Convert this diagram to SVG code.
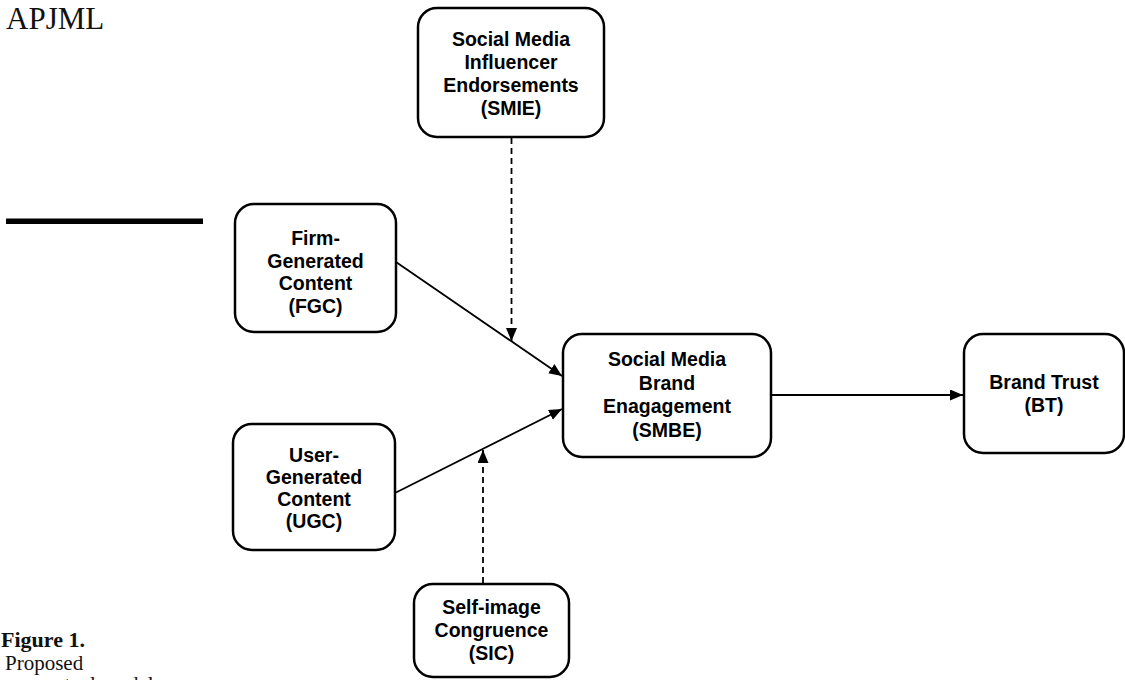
<svg xmlns="http://www.w3.org/2000/svg" width="1125" height="680" viewBox="0 0 1125 680">
<style>
.box{fill:#fff;stroke:#000;stroke-width:2.5}
.t{font-family:"Liberation Sans",Arial,sans-serif;font-weight:bold;font-size:19.5px;text-anchor:middle;fill:#000}
.s{font-family:"Liberation Serif","Times New Roman",serif;fill:#111}
.ln{stroke:#000;stroke-width:1.8;fill:none}
.dash{stroke-dasharray:6 4}
</style>
<defs>
<marker id="ah" markerUnits="userSpaceOnUse" markerWidth="14" markerHeight="12" refX="13" refY="5.5" orient="auto">
<path d="M0,0 L13,5.5 L0,11 z" fill="#000"/>
</marker>
</defs>
<rect width="1125" height="680" fill="#fff"/>
<text class="s" x="6" y="29" font-size="31">APJML</text>
<rect x="6" y="218.5" width="197" height="5.5" fill="#000"/>
<text class="s" x="1" y="647" font-size="22" font-weight="bold">Figure 1.</text>
<text class="s" x="5" y="670" font-size="21">Proposed</text>
<text class="s" x="5" y="691" font-size="21">conceptual model</text>
<g id="connectors">
<line class="ln" x1="396" y1="262" x2="562" y2="376" marker-end="url(#ah)"/>
<line class="ln" x1="395" y1="493" x2="562" y2="409" marker-end="url(#ah)"/>
<line class="ln" x1="771" y1="395" x2="963" y2="395" marker-end="url(#ah)"/>
<line class="ln dash" x1="511.5" y1="138" x2="511.5" y2="341" marker-end="url(#ah)"/>
<line class="ln dash" x1="483" y1="583" x2="483" y2="450" marker-end="url(#ah)"/>
</g>
<g id="SMIE">
<rect class="box" x="418" y="8" width="186" height="129" rx="19"/>
<text class="t" x="511" y="46">Social Media</text>
<text class="t" x="511" y="69">Influencer</text>
<text class="t" x="511" y="92">Endorsements</text>
<text class="t" x="511" y="115">(SMIE)</text>
</g>
<g id="FGC">
<rect class="box" x="235" y="204" width="161" height="128" rx="19"/>
<text class="t" x="315.5" y="245">Firm-</text>
<text class="t" x="315.5" y="267.5">Generated</text>
<text class="t" x="315.5" y="290">Content</text>
<text class="t" x="315.5" y="312.5">(FGC)</text>
</g>
<g id="UGC">
<rect class="box" x="233" y="424" width="162" height="126" rx="19"/>
<text class="t" x="314" y="462">User-</text>
<text class="t" x="314" y="484">Generated</text>
<text class="t" x="314" y="506">Content</text>
<text class="t" x="314" y="528">(UGC)</text>
</g>
<g id="SMBE">
<rect class="box" x="563" y="334" width="208" height="123" rx="19"/>
<text class="t" x="667" y="366">Social Media</text>
<text class="t" x="667" y="389.5">Brand</text>
<text class="t" x="667" y="413">Enagagement</text>
<text class="t" x="667" y="436.5">(SMBE)</text>
</g>
<g id="BT">
<rect class="box" x="964" y="334" width="160" height="119" rx="19"/>
<text class="t" x="1044" y="389">Brand Trust</text>
<text class="t" x="1044" y="412">(BT)</text>
</g>
<g id="SIC">
<rect class="box" x="414" y="584" width="155" height="93" rx="19"/>
<text class="t" x="491.5" y="614">Self-image</text>
<text class="t" x="491.5" y="637">Congruence</text>
<text class="t" x="491.5" y="660">(SIC)</text>
</g>
</svg>
